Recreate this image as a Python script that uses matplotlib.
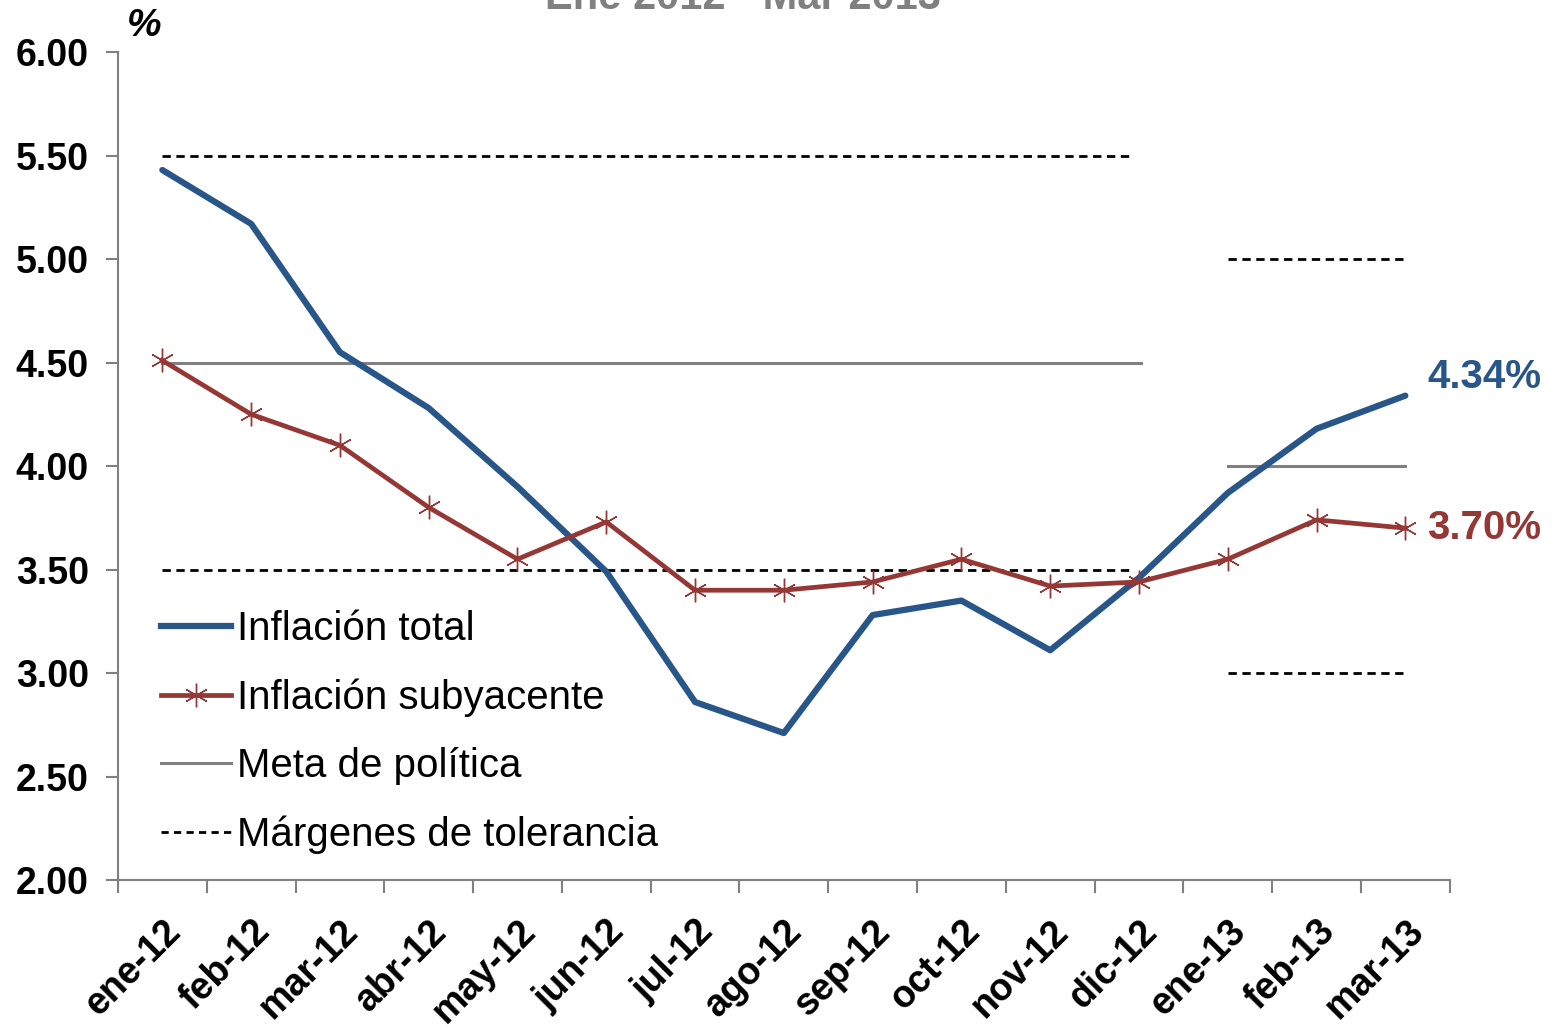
import matplotlib
matplotlib.use("Agg")
import matplotlib.pyplot as plt
from matplotlib.lines import Line2D
import numpy as np

plt.rcParams['font.family'] = ['Liberation Sans', 'DejaVu Sans']

# datos
meses = ["ene-12", "feb-12", "mar-12", "abr-12", "may-12", "jun-12", "jul-12",
         "ago-12", "sep-12", "oct-12", "nov-12", "dic-12", "ene-13", "feb-13", "mar-13"]
inflacion_total = [5.43, 5.17, 4.55, 4.28, 3.90, 3.49, 2.86, 2.71, 3.28, 3.35,
                   3.11, 3.46, 3.87, 4.18, 4.34]
inflacion_subyacente = [4.51, 4.25, 4.10, 3.80, 3.55, 3.73, 3.40, 3.40, 3.44, 3.55,
                        3.42, 3.44, 3.55, 3.74, 3.70]
meta_2012 = 4.5
margenes_2012 = (3.5, 5.5)
meta_2013 = 4.0
margenes_2013 = (3.0, 5.0)
n_2012 = 12

AZUL = '#285689'
ROJO = '#953735'
GRIS = '#808080'

x = np.arange(len(meses))
x12 = x[:n_2012]
x13 = x[n_2012:]

fig = plt.figure(figsize=(15.54, 10.30), dpi=100)
ax = fig.add_axes([0.0759, 0.1456, 0.857, 0.8039])

# metas y márgenes
ax.plot([x12[0], x12[-1] + 0.02], [meta_2012] * 2, color=GRIS, lw=2.2)
ax.plot([x13[0], x13[-1]], [meta_2013] * 2, color=GRIS, lw=2.2)
for v in margenes_2012:
    ax.plot([x12[0], x12[-1] - 0.07], [v, v], color='black', lw=2, dashes=(3, 2))
for v in margenes_2013:
    ax.plot([x13[0], x13[-1]], [v, v], color='black', lw=2, dashes=(3, 2))

ax.plot(x, inflacion_total, color=AZUL, lw=4.5, solid_capstyle='round')
ax.plot(x, inflacion_subyacente, color=ROJO, lw=3.4, marker=(6, 2, 0),
        markersize=17, markeredgewidth=1.0, markeredgecolor=ROJO)

ax.text(x[-1] + 0.25, inflacion_total[-1] + 0.09, f"{inflacion_total[-1]:.2f}%",
        color=AZUL, fontsize=29, fontweight='bold', va='center', ha='left')
ax.text(x[-1] + 0.25, inflacion_subyacente[-1], f"{inflacion_subyacente[-1]:.2f}%",
        color=ROJO, fontsize=29, fontweight='bold', va='center', ha='left')

ax.set_ylim(2.0, 6.0)
ax.set_xlim(-0.5, len(meses) - 0.5)
ax.set_yticks(np.arange(2.0, 6.01, 0.5))
ax.set_yticklabels([f"{v:.2f}" for v in np.arange(2.0, 6.01, 0.5)],
                   fontsize=27, fontweight='bold')
ax.set_xticks(x)
ax.set_xticklabels(meses, rotation=45, ha='right', rotation_mode='anchor',
                   fontsize=27, fontweight='bold')
ax.set_xticks(np.arange(-0.5, len(meses), 1.0), minor=True)
ax.tick_params(axis='x', which='major', length=0, pad=24)
ax.tick_params(axis='x', which='minor', length=9, width=1.5, color=GRIS)
ax.tick_params(axis='y', length=9, width=1.5, color=GRIS, pad=12)

for s in ['top', 'right']:
    ax.spines[s].set_visible(False)
for s in ['left', 'bottom']:
    ax.spines[s].set_color(GRIS)
    ax.spines[s].set_linewidth(1.5)

ax.text(0.007, 1.01, '%', transform=ax.transAxes, fontsize=28,
        fontweight='bold', fontstyle='italic', va='bottom', ha='left')

fig.text(0.478, 0.991, 'Ene 2012 - Mar 2013', fontsize=30, fontweight='bold',
         color=GRIS, ha='center', va='baseline')

handles = [
    Line2D([0], [0], color=AZUL, lw=4.5),
    Line2D([0], [0], color=ROJO, lw=3.4, marker=(6, 2, 0), markersize=17,
           markeredgewidth=1.0),
    Line2D([0], [0], color=GRIS, lw=2.2),
    Line2D([0], [0], color='black', lw=2, dashes=(2.6, 1.9)),
]
labels = ["Inflación total", "Inflación subyacente", "Meta de política",
          "Márgenes de tolerancia"]
ax.legend(handles, labels, loc='upper left', bbox_to_anchor=(0.02, 0.345),
          frameon=False, fontsize=29, handlelength=1.75, handletextpad=0.15,
          labelspacing=0.75, borderaxespad=0)

fig.savefig('out.png', dpi=100)
